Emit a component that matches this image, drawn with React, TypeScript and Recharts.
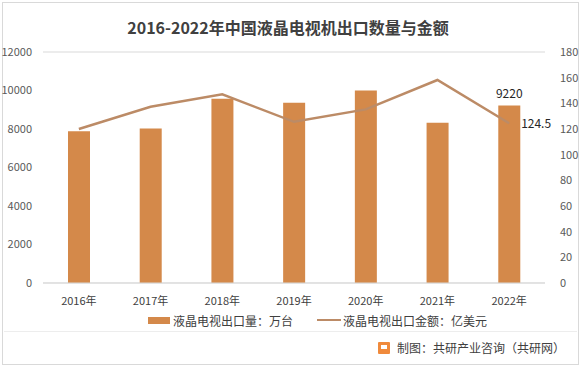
import React from 'react';
import { ComposedChart, Bar, Line, XAxis, YAxis, CartesianGrid, Legend, LabelList } from 'recharts';

const years = ['2016年', '2017年', '2018年', '2019年', '2020年', '2021年', '2022年'];
const volume = [7880, 8020, 9570, 9360, 10000, 8330, 9220];
const amount = [120, 137.3, 147, 125.6, 135.3, 158.2, 124.5];
const leftTicks = [0, 2000, 4000, 6000, 8000, 10000, 12000];
const rightTicks = [0, 20, 40, 60, 80, 100, 120, 140, 160, 180];
const barName = '液晶电视出口量：万台';
const lineName = '液晶电视出口金额：亿美元';
const title = '2016-2022年中国液晶电视机出口数量与金额';
const credit = '制图：共研产业咨询（共研网）';

const data = years.map((y, i) => ({ year: y, volume: volume[i], amount: amount[i] }));

const BAR_COLOR = '#D4894A';
const LINE_COLOR = '#BC8B66';
const TEXT = '#595959';
const FONT = '"Noto Sans CJK SC", "Noto Sans", sans-serif';

const lastIdx = years.length - 1;

const BarLabel = (props: any) => {
  const { x, y, width, value, index } = props;
  if (index !== lastIdx) return null;
  return (
    <text x={x + width / 2} y={y - 8} textAnchor="middle" fontSize={12} fill="#262626" fontFamily={FONT}>
      {value}
    </text>
  );
};

const LineLabel = (props: any) => {
  const { x, y, value, index } = props;
  if (index !== lastIdx) return null;
  return (
    <text x={x + 12} y={y + 5} textAnchor="start" fontSize={12} fill="#262626" fontFamily={FONT}>
      {value}
    </text>
  );
};

const LegendContent = () => (
  <div style={{ display: 'flex', justifyContent: 'flex-start', alignItems: 'center', fontFamily: FONT, fontSize: 12, color: '#404040', paddingLeft: 148, height: 20 }}>
    <span style={{ display: 'inline-block', width: 22, height: 7, background: BAR_COLOR, marginRight: 3 }} />
    <span>{barName}</span>
    <span style={{ display: 'inline-block', width: 24, height: 2.5, background: LINE_COLOR, marginLeft: 24, marginRight: 2 }} />
    <span>{lineName}</span>
  </div>
);

export default function App() {
  return (
    <div style={{ position: 'absolute', left: 0, top: 0, width: 581, height: 367, background: '#fff', fontFamily: FONT }}>
      <div style={{ position: 'absolute', left: 2, top: 2, width: 575, height: 361, border: '1px solid #D9D9D9' }} />
      <div style={{ position: 'absolute', left: 0, top: 16, width: 576, textAlign: 'center', fontSize: 16, lineHeight: '22px', fontWeight: 700, color: '#404040' }}>
        {title}
      </div>
      <ComposedChart width={581} height={367} data={data} margin={{ top: 52, right: 0, left: 0, bottom: 34 }}>
        <CartesianGrid vertical={false} stroke="#D9D9D9" />
        <XAxis dataKey="year" axisLine={{ stroke: '#D9D9D9' }} tickLine={false} tick={{ fontSize: 11, fill: '#404040', fontFamily: FONT }} height={30} tickMargin={8} />
        <YAxis yAxisId="left" domain={[0, 12000]} ticks={leftTicks} axisLine={false} tickLine={false} width={43} tick={{ fontSize: 11, fill: TEXT, fontFamily: FONT }} tickMargin={5} />
        <YAxis yAxisId="right" orientation="right" domain={[0, 180]} ticks={rightTicks} axisLine={false} tickLine={false} width={36} tick={{ fontSize: 11, fill: TEXT, fontFamily: FONT }} tickMargin={9} />
        <Legend verticalAlign="bottom" content={<LegendContent />} wrapperStyle={{ top: 310, left: 0 }} />
        <Bar yAxisId="left" dataKey="volume" name={barName} fill={BAR_COLOR} barSize={22} isAnimationActive={false}>
          <LabelList dataKey="volume" content={<BarLabel />} />
        </Bar>
        <Line yAxisId="right" dataKey="amount" name={lineName} stroke={LINE_COLOR} strokeWidth={2.5} dot={false} type="linear" isAnimationActive={false}>
          <LabelList dataKey="amount" content={<LineLabel />} />
        </Line>
      </ComposedChart>
      <div style={{ position: 'absolute', left: 4, top: 331, width: 573, height: 1, background: '#EDEDED' }} />
      <div style={{ position: 'absolute', left: 378, top: 339, display: 'flex', alignItems: 'center', fontSize: 12, color: '#404040' }}>
        <span style={{ display: 'inline-block', width: 12, height: 12, background: '#F08A3C', marginRight: 7, borderRadius: 1, position: 'relative' }}>
          <span style={{ position: 'absolute', left: 3, top: 3, width: 6, height: 4, background: '#fff' }} />
        </span>
        <span>{credit}</span>
      </div>
    </div>
  );
}
